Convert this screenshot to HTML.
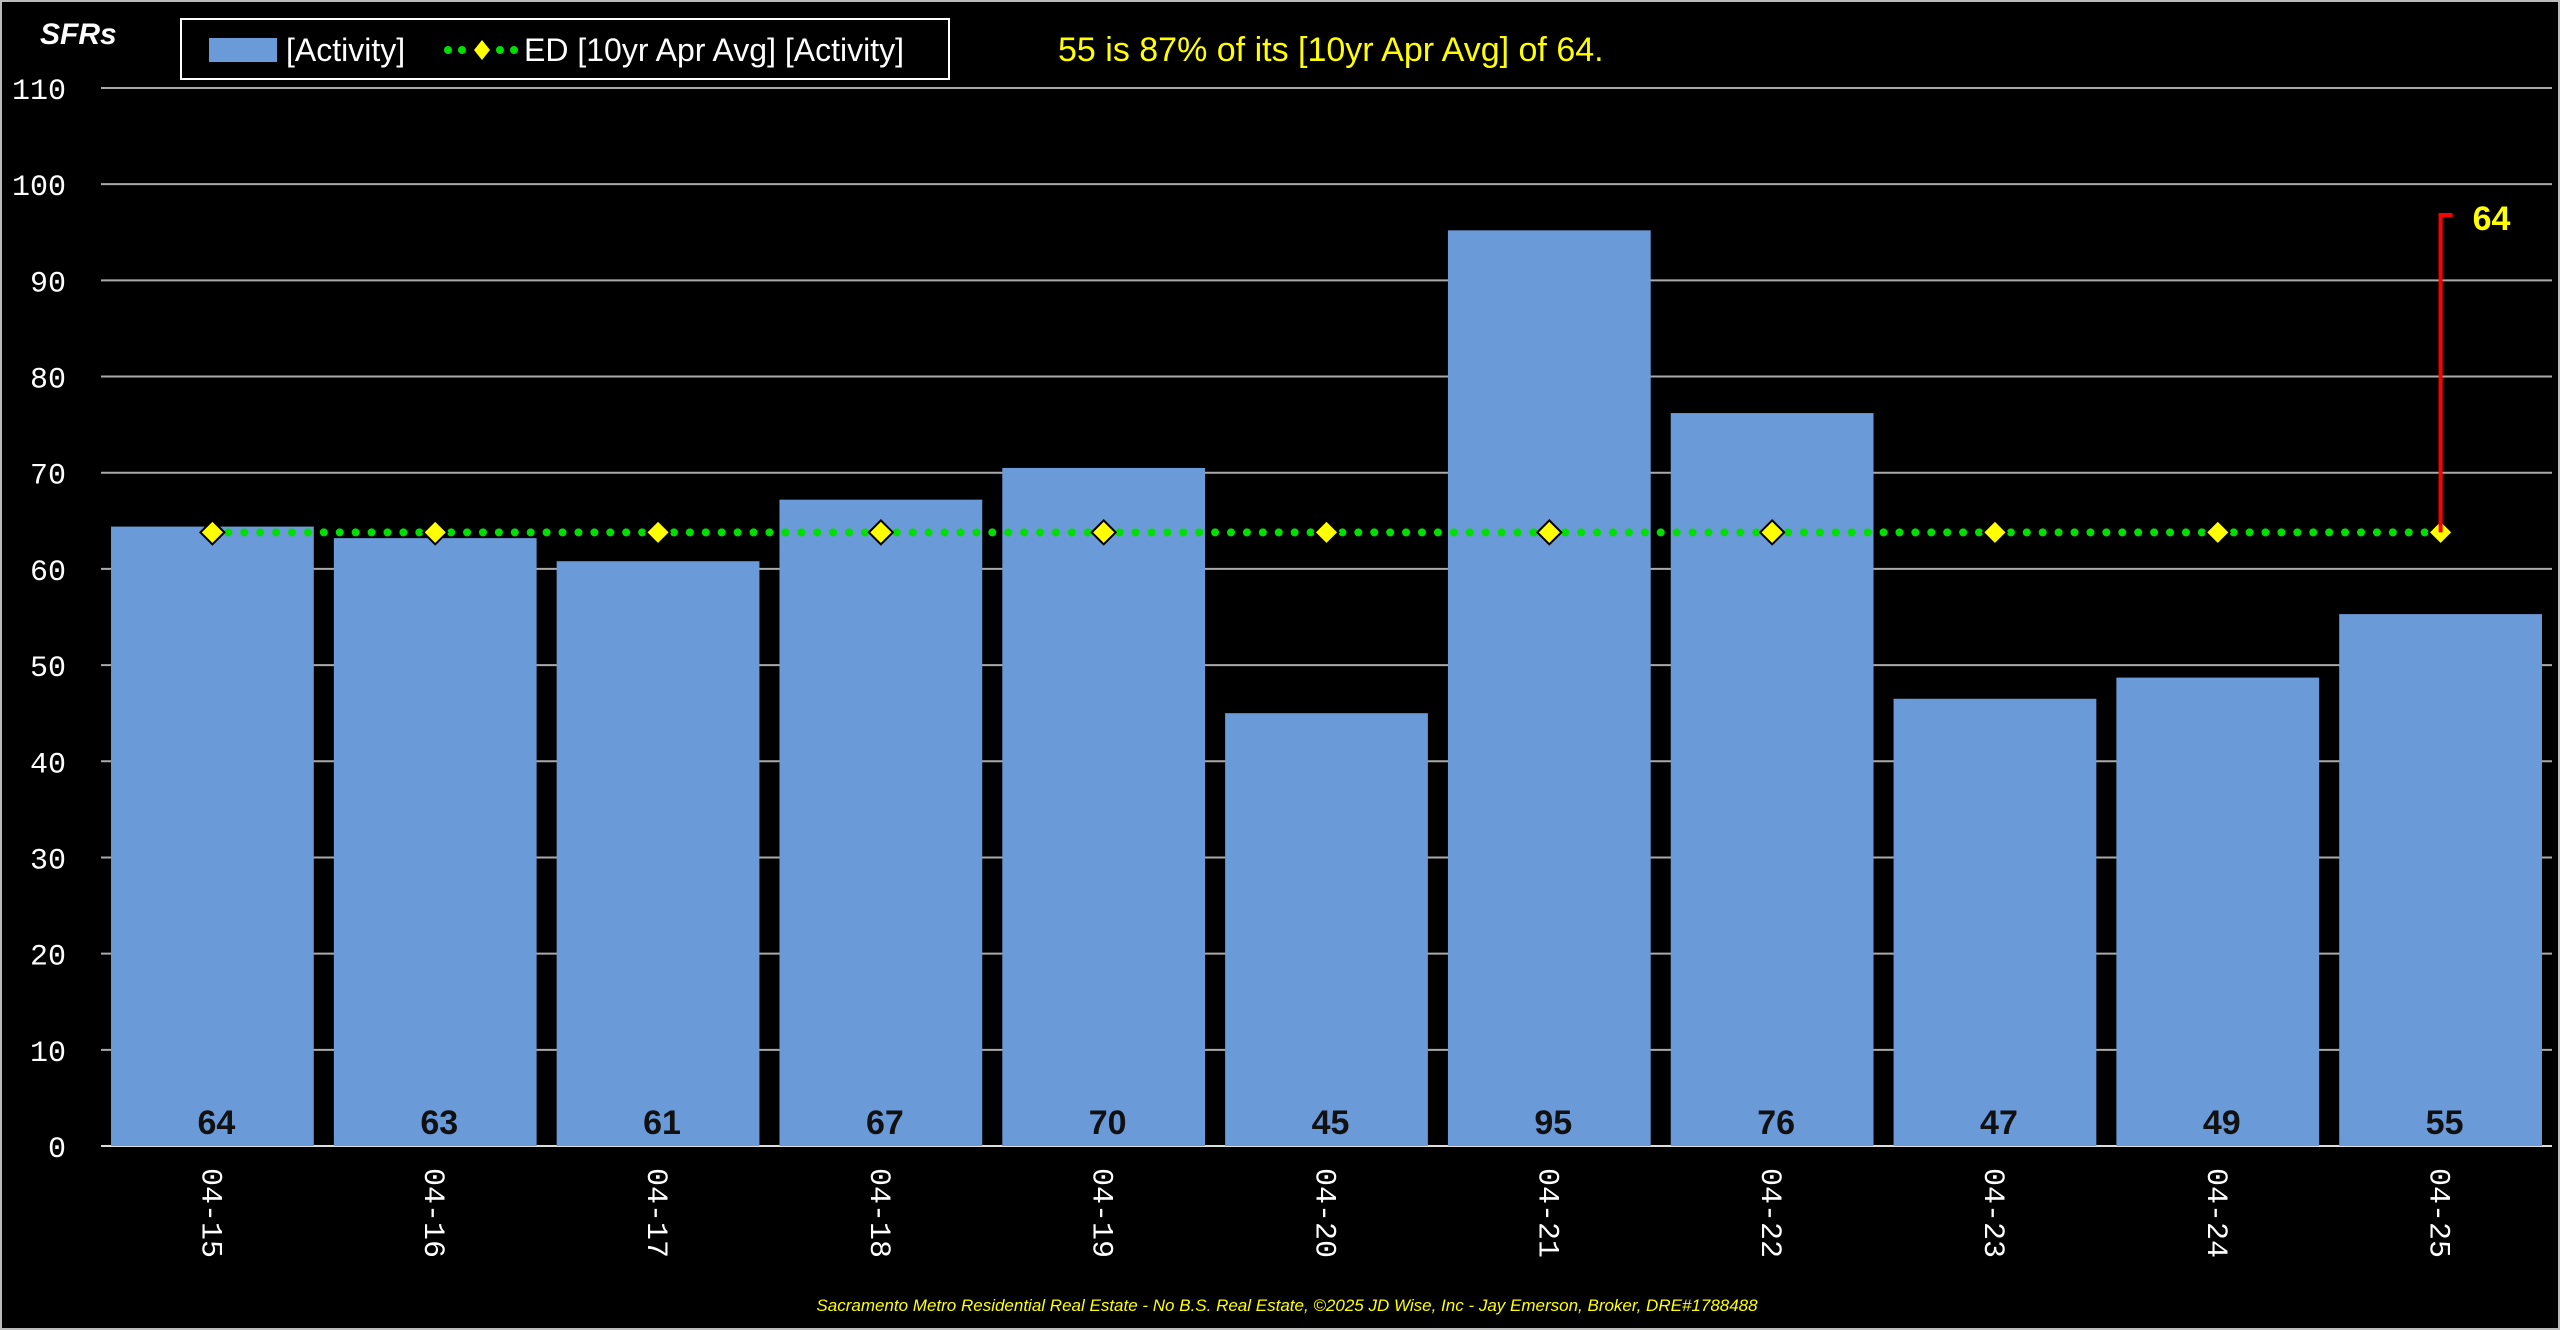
<!DOCTYPE html>
<html><head><meta charset="utf-8"><style>
html,body{margin:0;padding:0;background:#000;}
svg{display:block;}
</style></head><body>
<svg id="chart" width="2560" height="1330" xmlns="http://www.w3.org/2000/svg">
<rect x="1" y="1" width="2558" height="1328" fill="#000" stroke="#bbb" stroke-width="2"/>
<g id="grid"></g>
<g id="bars"></g>
<g id="avg"></g>
<g id="labels"></g>
<text x="40" y="44" fill="#fff" font-family="Liberation Sans, sans-serif" font-size="30" font-weight="bold" font-style="italic">SFRs</text>
<g>
<rect x="181" y="19" width="768" height="60" fill="#000" stroke="#fff" stroke-width="2"/>
<rect x="209" y="38" width="68" height="24" fill="#6b9ad9"/>
<text x="286" y="61" fill="#fff" font-family="Liberation Sans, sans-serif" font-size="32">[Activity]</text>
<g>
<circle cx="448" cy="50" r="4" fill="#00e000"/><circle cx="462" cy="50" r="4" fill="#00e000"/>
<polygon points="482,40 490,50 482,60 474,50" fill="#ffff00"/>
<circle cx="500" cy="50" r="4" fill="#00e000"/><circle cx="514" cy="50" r="4" fill="#00e000"/></g>
<text x="524" y="61" fill="#fff" font-family="Liberation Sans, sans-serif" font-size="32">ED [10yr Apr Avg] [Activity]</text>
</g>
<text x="1058" y="61" fill="#ffff00" font-family="Liberation Sans, sans-serif" font-size="34">55 is 87% of its [10yr Apr Avg] of 64.</text>
<text x="1287" y="1311" fill="#ffff00" text-anchor="middle" font-family="Liberation Sans, sans-serif" font-size="17" font-style="italic">Sacramento Metro Residential Real Estate - No B.S. Real Estate, ©2025 JD Wise, Inc - Jay Emerson, Broker, DRE#1788488</text>
</svg>
<script>
const categories = ["04-15","04-16","04-17","04-18","04-19","04-20","04-21","04-22","04-23","04-24","04-25"];
const activity = [64.4,63.2,60.8,67.2,70.5,45.0,95.2,76.2,46.5,48.7,55.3];
const activityLabels = ["64","63","61","67","70","45","95","76","47","49","55"];
const avgValues = [63.8,63.8,63.8,63.8,63.8,63.8,63.8,63.8,63.8,63.8,63.8];
const yTicks = [0,10,20,30,40,50,60,70,80,90,100,110];
const avgLabel = "64";

const NS="http://www.w3.org/2000/svg";
const L=101,R=2552,T=88,B=1146,YMAX=110;
const y=v=>B-(v/YMAX)*(B-T);
const bw=(R-L)/categories.length;
const xc=i=>L+bw*(i+0.5);
function mk(tag,attrs,parent){const e=document.createElementNS(NS,tag);for(const k in attrs)e.setAttribute(k,attrs[k]);parent.appendChild(e);return e;}
const grid=document.getElementById('grid'),bars=document.getElementById('bars'),avg=document.getElementById('avg'),lab=document.getElementById('labels');
yTicks.forEach(t=>{
  const ln=mk('line',{x1:L,x2:R,y1:y(t),y2:y(t),stroke:t===0?'#ddd':'#aaa','stroke-width':2},grid);
  
  
  const tx=mk('text',{x:66,y:y(t)+11,fill:'#fff','text-anchor':'end','font-family':'Liberation Mono, monospace','font-size':30},grid);
  tx.textContent=t;
  
  
});
activity.forEach((v,i)=>{
  const w=bw*0.91;
  const r=mk('rect',{x:xc(i)-w/2,y:y(v),width:w,height:B-y(v),fill:'#6b9ad9'},bars);
  
  
  const t=mk('text',{x:xc(i)+4,y:B-12,fill:'#111','text-anchor':'middle','font-family':'Liberation Sans, sans-serif','font-size':34,'font-weight':'bold'},lab);
  t.textContent=activityLabels[i];
  
  
  const xl=mk('text',{x:0,y:0,fill:'#fff','font-family':'Liberation Mono, monospace','font-size':30,transform:`translate(${xc(i)-10},1168) rotate(90)`},lab);
  xl.textContent=categories[i];
  
  
});
// dotted average line
for(let i=0;i<avgValues.length-1;i++){
  const x1=xc(i),x2=xc(i+1),y1=y(avgValues[i]),y2=y(avgValues[i+1]);
  const n=Math.round((x2-x1)/16);
  for(let k=1;k<n;k++){
    const d=mk('circle',{cx:x1+(x2-x1)*k/n,cy:y1+(y2-y1)*k/n,r:4,fill:'#00e000'},avg);
    
    
  }
}
avgValues.forEach((v,i)=>{
  const cx=xc(i),cy=y(v),s=12;
  const p=mk('polygon',{points:`${cx},${cy-s} ${cx+s},${cy} ${cx},${cy+s} ${cx-s},${cy}`,fill:'#ffff00',stroke:'#000','stroke-width':2},avg);
  
  
});
// red callout
const li=avgValues.length-1, lx=xc(li);
const ytop=y(avgValues[li]+33);
const cl=mk('path',{d:`M${lx},${y(avgValues[li])} L${lx},${ytop} L${lx+12},${ytop}`,stroke:'#ff0000','stroke-width':4,fill:'none'},avg);


const ct=mk('text',{x:lx+32,y:ytop+15,fill:'#ffff00','font-family':'Liberation Sans, sans-serif','font-size':34,'font-weight':'bold'},avg);
ct.textContent=avgLabel;


</script>
</body></html>
